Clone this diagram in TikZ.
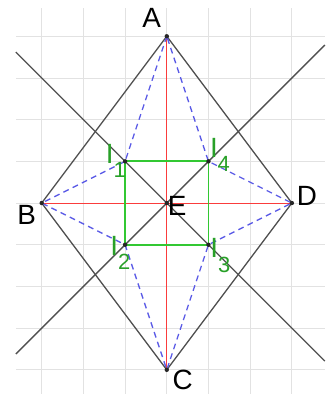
\documentclass[tikz,border=0pt]{standalone}
\usepackage{fontspec}
\setmainfont{Liberation Sans}
\usepackage{tikz}
\usetikzlibrary{positioning, calc}
\definecolor{gridgray}{RGB}{226,226,226}
\definecolor{lingray}{RGB}{80,80,80}
\definecolor{diagred}{RGB}{250,60,60}
\definecolor{dashblue}{RGB}{90,90,230}
\definecolor{sqgreen}{RGB}{50,200,50}
\definecolor{lblgreen}{RGB}{40,160,40}
\tikzset{
  gridline/.style={line width=0.5pt, color=gridgray},
  sideline/.style={line width=0.9pt, color=lingray},
  diagline/.style={line width=0.7pt, color=diagred},
  dashline/.style={line width=0.9pt, color=dashblue, dash pattern=on 4pt off 3pt},
  sqline/.style={line width=1.2pt, color=sqgreen},
  pt/.style={circle, fill=black!85, inner sep=0pt, minimum size=3pt},
  lbl/.style={font=\fontsize{19}{21}\selectfont, inner sep=0pt, text=black},
  ilbl/.style={font=\fontsize{19}{21}\selectfont, inner sep=0pt, text=lblgreen}
}
\newcommand{\isub}[1]{I\raisebox{-10pt}{\fontsize{15}{15}\selectfont #1}}

\begin{document}
\begin{tikzpicture}
  \useasboundingbox (-4.0,-4.58) rectangle (3.91,4.87);

  % Draw grid
  \draw[gridline, step=1.0] (-3.62,-4.58) grid (3.79,4.68);

  % Points of the rhombus and the incentres
  \coordinate (A) at (0,4);
  \coordinate (B) at (-3,0);
  \coordinate (C) at (0,-4);
  \coordinate (D) at (3,0);
  \coordinate (E) at (0,0);
  \coordinate (I1) at (-1,1);
  \coordinate (I2) at (-1,-1);
  \coordinate (I3) at (1,-1);
  \coordinate (I4) at (1,1);

  % Ends of the bisector lines
  \coordinate (L1) at (-3.62,3.62);
  \coordinate (L3) at (3.79,-3.79);
  \coordinate (L2) at (-3.62,-3.62);
  \coordinate (L4) at (3.79,3.79);

  % Bisectors and sides
  \draw[sideline] (L1) -- (L3);
  \draw[sideline] (L2) -- (L4);
  \draw[sideline] (A) -- (B) -- (C) -- (D) -- cycle;

  % Diagonals
  \draw[diagline] (A) -- (C);
  \draw[diagline] (B) -- (D);

  % Dashed lines to the incentres
  \draw[dashline] (A) -- (I1) -- (B) -- (I2) -- (C) -- (I3) -- (D) -- (I4) -- (A);

  % Square of incentres
  \draw[sqline] (I1) -- (I4) -- (I3) -- (I2) -- cycle;

  \foreach \p in {A,B,C,D,E,I1,I2,I3,I4} { \node[pt] at (\p) {}; }

  % Labels
  \node[lbl] (labA) at (-0.36,4.43) {A};
  \node[lbl] (labB) at (-3.36,-0.29) {B};
  \node[lbl] (labC) at (0.38,-4.24) {C};
  \node[lbl] (labD) at (3.36,0.17) {D};
  \node[lbl] (labE) at (0.25,-0.08) {E};
  \node[ilbl, anchor=base west] (labI1) at (-1.47,0.96) {\isub{1}};
  \node[ilbl, anchor=base west] (labI4) at (1.03,1.10) {\isub{4}};
  \node[ilbl, anchor=base west] (labI2) at (-1.36,-1.25) {\isub{2}};
  \node[ilbl, anchor=base west] (labI3) at (1.04,-1.31) {\isub{3}};

\end{tikzpicture}
\end{document}
